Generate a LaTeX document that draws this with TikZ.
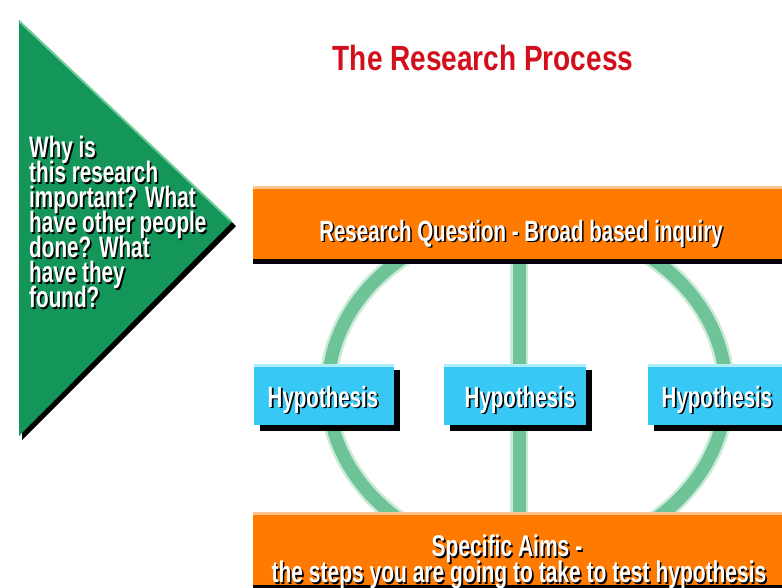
\documentclass[tikz,border=0pt]{standalone}
\usepackage{fontspec}
\setmainfont{Liberation Sans}
\newfontfamily\condfont{Liberation Sans}[FakeStretch=0.70]
\newfontfamily\titlefont{Liberation Sans}[FakeStretch=0.80]

\definecolor{barOrange}{RGB}{255,122,0}
\definecolor{barOrangeHi}{RGB}{255,196,140}
\definecolor{boxCyan}{RGB}{56,200,245}
\definecolor{boxCyanHi}{RGB}{175,236,252}
\definecolor{triGreen}{RGB}{20,150,90}
\definecolor{triGreenHi}{RGB}{110,205,150}
\definecolor{ringGreen}{RGB}{110,196,150}
\definecolor{titleRed}{RGB}{210,16,28}

% white lettering with a dark drop shadow
\newcommand\shad[1]{\leavevmode\rlap{\kern1.6pt\raisebox{-1.6pt}{\textcolor{black}{#1}}}\textcolor{white}{#1}}
% condensed bold lettering at a given size and line pitch
\newcommand\letterfont[2]{\condfont\bfseries\fontsize{#1}{#2}\selectfont\lineskiplimit=-60pt}

\begin{document}
\begin{tikzpicture}[x=1pt,y=-1pt,
  lettering/.style={inner sep=0pt, font=\letterfont{29.3}{25}},
  ring/.style={ringGreen, line width=13},
  ringhalo/.style={ringGreen, line width=18, opacity=0.35}]
\useasboundingbox (0,0) rectangle (782,587);
\fill[white] (0,0) rectangle (782,587);

% title
\node[inner sep=0pt, anchor=base, text=titleRed,
      font=\titlefont\bfseries\fontsize{35}{40}\selectfont] (title) at (483,70) {The Research Process};

% green arrow head with shadow
\fill[black] (22,24) -- (236,226) -- (22,440) -- cycle;
\fill[triGreen] (19,20) -- (232,222) -- (19,436) -- cycle;
\draw[triGreenHi, line width=2] (19,21) -- (231,221);
\node[lettering, font=\letterfont{29.6}{25}, anchor=north west, align=left] (why) at (29,136)
  {\shad{Why is}\\\shad{this research}\\\shad{important? What}\\\shad{have other people}\\\shad{done? What}\\\shad{have they}\\\shad{found?}};

% ring and central stem linking question and aims
\draw[ringhalo] (527,390) ellipse [x radius=199, y radius=169];
\draw[ring] (527,390) ellipse [x radius=199, y radius=169];
\draw[ringhalo] (519,250) -- (519,520);
\draw[ring] (519,250) -- (519,520);

% research question bar
\fill[black] (253,191) rectangle (782,264);
\fill[barOrange] (253,186) rectangle (782,259);
\fill[barOrangeHi] (253,186) rectangle (782,189);
\node[lettering, anchor=base] (question) at (521,241) {\shad{Research Question - Broad based inquiry}};

% hypothesis boxes
\foreach \xa/\xb in {254/394, 444/586, 648/800}{
  \fill[black] (\xa+6,370) rectangle (\xb+6,431);
  \fill[boxCyan] (\xa,364) rectangle (\xb,425);
  \fill[boxCyanHi] (\xa,364) rectangle (\xb,367);
}
\node[lettering, anchor=base] (hypA) at (323,407) {\shad{Hypothesis}};
\node[lettering, anchor=base] (hypB) at (520,407) {\shad{Hypothesis}};
\node[lettering, anchor=base] (hypC) at (717,407) {\shad{Hypothesis}};

% specific aims bar
\fill[black] (253,517) rectangle (782,592);
\fill[barOrange] (253,512) rectangle (782,585);
\fill[barOrangeHi] (253,512) rectangle (782,515);
\node[lettering, font=\letterfont{30}{26}, align=center, anchor=north] (aims) at (519,535)
  {\shad{Specific Aims -}\hspace*{24pt}\\\shad{the steps you are going to take to test hypothesis}};
\end{tikzpicture}
\end{document}
